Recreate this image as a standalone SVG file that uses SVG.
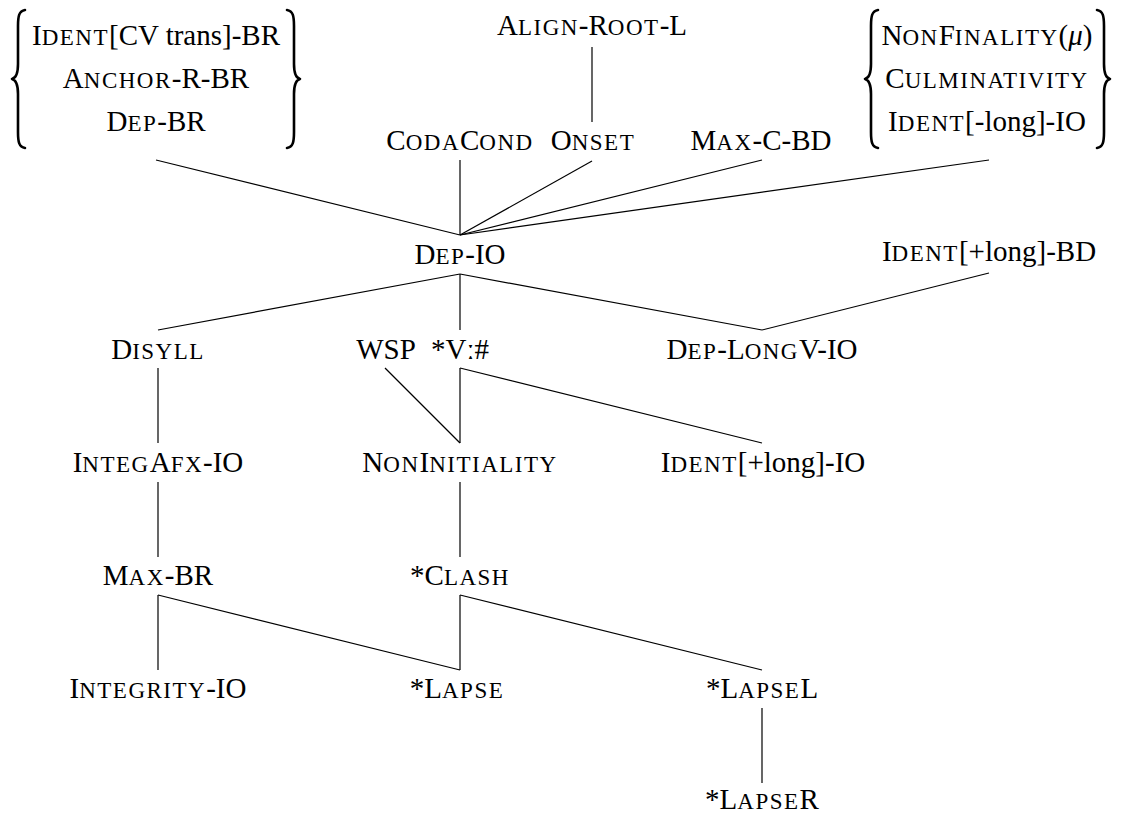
<svg xmlns="http://www.w3.org/2000/svg" width="1122" height="815" viewBox="0 0 1122 815">
<style>
text{font-size:29px;fill:#000;text-anchor:middle}
.sc{font-size:23px;letter-spacing:1.5px}
.it{font-style:italic}
.ln{stroke:#000;stroke-width:1.2;fill:none}
.br{stroke:#000;stroke-width:2.6;fill:none;stroke-linecap:round;stroke-linejoin:round}
</style>
<rect width="1122" height="815" fill="#fff"/>
<g id="connectors">
<line class="ln" x1="156" y1="160" x2="460" y2="235"/>
<line class="ln" x1="460" y1="160" x2="460" y2="235"/>
<line class="ln" x1="592" y1="161" x2="460" y2="235"/>
<line class="ln" x1="762" y1="160" x2="460" y2="235"/>
<line class="ln" x1="989" y1="160" x2="460" y2="235"/>
<line class="ln" x1="592" y1="47" x2="592" y2="122"/>
<line class="ln" x1="460" y1="274" x2="158" y2="330"/>
<line class="ln" x1="460" y1="274" x2="460" y2="330"/>
<line class="ln" x1="460" y1="274" x2="762" y2="330"/>
<line class="ln" x1="989" y1="273" x2="762" y2="330"/>
<line class="ln" x1="158" y1="368" x2="158" y2="443"/>
<line class="ln" x1="385" y1="368" x2="460" y2="443"/>
<line class="ln" x1="460" y1="368" x2="460" y2="443"/>
<line class="ln" x1="460" y1="368" x2="762" y2="443"/>
<line class="ln" x1="158" y1="482" x2="158" y2="557"/>
<line class="ln" x1="460" y1="482" x2="460" y2="557"/>
<line class="ln" x1="158" y1="595" x2="158" y2="670"/>
<line class="ln" x1="158" y1="595" x2="460" y2="670"/>
<line class="ln" x1="460" y1="595" x2="460" y2="670"/>
<line class="ln" x1="460" y1="595" x2="762" y2="670"/>
<line class="ln" x1="762" y1="708" x2="762" y2="783"/>
</g>
<g font-family="Liberation Serif, DejaVu Serif, serif">
<g id="node-left-set">
<path class="br" d="M25,10 C19,11 18,16 18,26 L18,64 C18,73 16,78 12,79 C16,80 18,85 18,94 L18,132 C18,142 19,147 25,148"/>
<path class="br" d="M287,10 C293,11 294,16 294,26 L294,64 C294,73 296,78 300,79 C296,80 294,85 294,94 L294,132 C294,142 293,147 287,148"/>
<text x="156" y="45">I<tspan class="sc">DENT</tspan>[CV trans]-BR</text>
<text x="156" y="88">A<tspan class="sc">NCHOR</tspan>-R-BR</text>
<text x="156" y="131">D<tspan class="sc">EP</tspan>-BR</text>
</g>
<g id="node-align"><text x="592" y="35">A<tspan class="sc">LIGN</tspan>-R<tspan class="sc">OOT</tspan>-L</text></g>
<g id="node-codacond"><text x="460" y="150">C<tspan class="sc">ODA</tspan>C<tspan class="sc">OND</tspan></text></g>
<g id="node-onset"><text x="593" y="150">O<tspan class="sc">NSET</tspan></text></g>
<g id="node-maxcbd"><text x="761" y="150">M<tspan class="sc">AX</tspan>-C-BD</text></g>
<g id="node-right-set">
<path class="br" d="M878,10 C872,11 871,16 871,26 L871,64 C871,73 869,78 865,79 C869,80 871,85 871,94 L871,132 C871,142 872,147 878,148"/>
<path class="br" d="M1097,10 C1103,11 1104,16 1104,26 L1104,64 C1104,73 1106,78 1110,79 C1106,80 1104,85 1104,94 L1104,132 C1104,142 1103,147 1097,148"/>
<text x="987" y="45">N<tspan class="sc">ON</tspan>F<tspan class="sc">INALITY</tspan>(<tspan class="it">μ</tspan>)</text>
<text x="987" y="88">C<tspan class="sc">ULMINATIVITY</tspan></text>
<text x="987" y="131">I<tspan class="sc">DENT</tspan>[-long]-IO</text>
</g>
<g id="node-depio"><text x="460" y="264">D<tspan class="sc">EP</tspan>-IO</text></g>
<g id="node-identbd"><text x="989" y="261">I<tspan class="sc">DENT</tspan>[+long]-BD</text></g>
<g id="node-disyll"><text x="158" y="359">D<tspan class="sc">ISYLL</tspan></text></g>
<g id="node-wsp"><text x="386" y="359">WSP</text></g>
<g id="node-vlong"><text x="460" y="359">*Vː#</text></g>
<g id="node-deplongv"><text x="762" y="359">D<tspan class="sc">EP</tspan>-L<tspan class="sc">ONG</tspan>V-IO</text></g>
<g id="node-integafx"><text x="158" y="472">I<tspan class="sc">NTEG</tspan>A<tspan class="sc">FX</tspan>-IO</text></g>
<g id="node-noninitiality"><text x="460" y="472">N<tspan class="sc">ON</tspan>I<tspan class="sc">NITIALITY</tspan></text></g>
<g id="node-identio"><text x="763" y="472">I<tspan class="sc">DENT</tspan>[+long]-IO</text></g>
<g id="node-maxbr"><text x="158" y="585">M<tspan class="sc">AX</tspan>-BR</text></g>
<g id="node-clash"><text x="460" y="585">*C<tspan class="sc">LASH</tspan></text></g>
<g id="node-integrity"><text x="158" y="698">I<tspan class="sc">NTEGRITY</tspan>-IO</text></g>
<g id="node-lapse"><text x="457" y="698">*L<tspan class="sc">APSE</tspan></text></g>
<g id="node-lapsel"><text x="762" y="698">*L<tspan class="sc">APSE</tspan>L</text></g>
<g id="node-lapser"><text x="762" y="809">*L<tspan class="sc">APSE</tspan>R</text></g>
</g>
</svg>
